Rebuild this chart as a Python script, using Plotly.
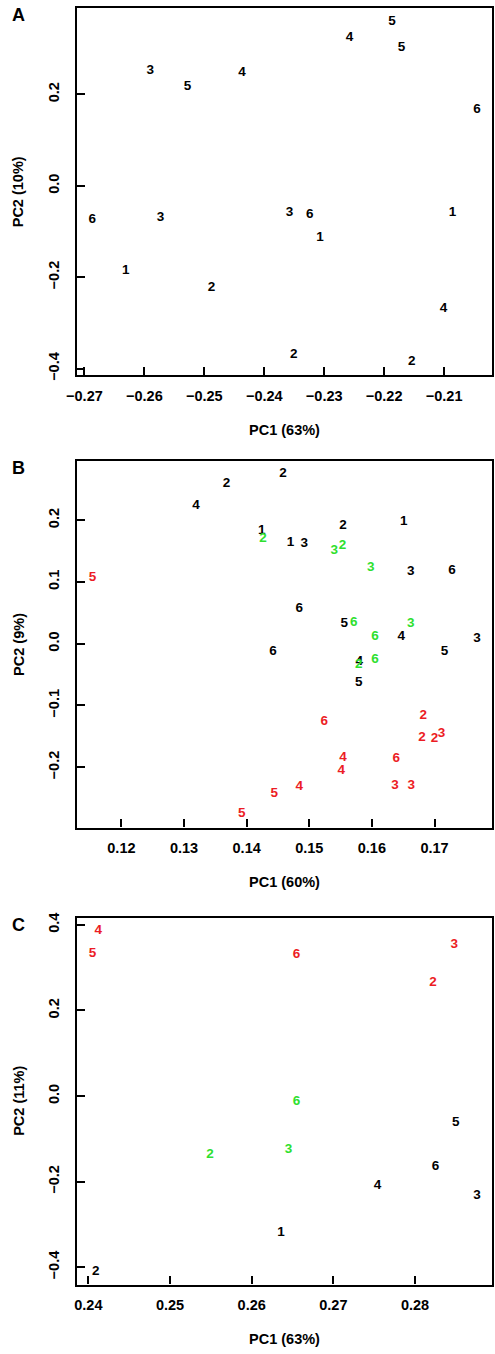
import plotly.graph_objects as go

W, H = 495, 1354
RED = "#ec1c24"
GREEN = "#2ee02e"
BLACK = "#000000"
COLORS = {"black": BLACK, "red": RED, "green": GREEN}

# ---------------- Panel A ----------------
a_x = [-0.2187, -0.2258, -0.2171, -0.2590, -0.2437, -0.2528, -0.2045, -0.2687, -0.2573,
       -0.2358, -0.2324, -0.2086, -0.2307, -0.2631, -0.2488, -0.2101, -0.2351, -0.2154]
a_y = [0.360, 0.324, 0.302, 0.252, 0.248, 0.217, 0.166, -0.074, -0.069,
       -0.058, -0.063, -0.059, -0.113, -0.186, -0.222, -0.269, -0.370, -0.385]
a_lab = ["5", "4", "5", "3", "4", "5", "6", "6", "3", "3", "6", "1", "1", "1", "2", "4", "2", "2"]
a_grp = ["black"] * 18

# ---------------- Panel B ----------------
b_x = [0.1458, 0.1368, 0.1319, 0.1424, 0.1470, 0.1492, 0.1554, 0.1651, 0.1662, 0.1728,
       0.1484, 0.1556, 0.1647, 0.1768, 0.1442, 0.1716, 0.1580, 0.1579,
       0.1426, 0.1540, 0.1553, 0.1598, 0.1571, 0.1605, 0.1662, 0.1579, 0.1605,
       0.1154, 0.1682, 0.1524, 0.1680, 0.1700, 0.1711, 0.1554, 0.1639, 0.1551, 0.1637,
       0.1663, 0.1484, 0.1444, 0.1392]
b_y = [0.2752, 0.2591, 0.2244, 0.1831, 0.1643, 0.1627, 0.1912, 0.1976, 0.1161, 0.1178,
       0.0574, 0.0333, 0.0117, 0.0076, -0.0133, -0.0124, -0.0284, -0.0631,
       0.1698, 0.1510, 0.1590, 0.1226, 0.0342, 0.0117, 0.0321, -0.0337, -0.0257,
       0.1065, -0.1157, -0.1264, -0.1526, -0.1531, -0.1462, -0.1847, -0.1863, -0.2061, -0.2302,
       -0.2302, -0.2318, -0.2426, -0.2758]
b_lab = ["2", "2", "4", "1", "1", "3", "2", "1", "3", "6",
         "6", "5", "4", "3", "6", "5", "4", "5",
         "2", "3", "2", "3", "6", "6", "3", "2", "6",
         "5", "2", "6", "2", "2", "3", "4", "6", "4", "3",
         "3", "4", "5", "5"]
b_grp = ["black"] * 18 + ["green"] * 9 + ["red"] * 14

# ---------------- Panel C ----------------
c_x = [0.2850, 0.2825, 0.2754, 0.2876, 0.2636, 0.2409,
       0.2655, 0.2645, 0.2549,
       0.2412, 0.2405, 0.2655, 0.2848, 0.2822]
c_y = [-0.063, -0.164, -0.209, -0.232, -0.319, -0.410,
       -0.012, -0.126, -0.137,
       0.386, 0.332, 0.331, 0.353, 0.264]
c_lab = ["5", "6", "4", "3", "1", "2",
         "6", "3", "2",
         "4", "5", "6", "3", "2"]
c_grp = ["black"] * 6 + ["green"] * 3 + ["red"] * 5

panels = [
    dict(x=a_x, y=a_y, lab=a_lab, grp=a_grp, letter="A", xt="PC1 (63%)", yt="PC2 (10%)",
         xr=[-0.2713, -0.2020], yr=[-0.4137, 0.389],
         xtv=[-0.27, -0.26, -0.25, -0.24, -0.23, -0.22, -0.21], ytv=[-0.4, -0.2, 0.0, 0.2],
         top=3, bot=373),
    dict(x=b_x, y=b_y, lab=b_lab, grp=b_grp, letter="B", xt="PC1 (60%)", yt="PC2 (9%)",
         xr=[0.11285, 0.17919], yr=[-0.2977, 0.2967],
         xtv=[0.12, 0.13, 0.14, 0.15, 0.16, 0.17], ytv=[-0.2, -0.1, 0.0, 0.1, 0.2],
         top=459.3, bot=829.3),
    dict(x=c_x, y=c_y, lab=c_lab, grp=c_grp, letter="C", xt="PC1 (63%)", yt="PC2 (11%)",
         xr=[0.23856, 0.28944], yr=[-0.4403, 0.4171],
         xtv=[0.24, 0.25, 0.26, 0.27, 0.28], ytv=[-0.4, -0.2, 0.0, 0.2, 0.4],
         top=920, bot=1290),
]

FONT = "Liberation Sans, Arial, Helvetica, sans-serif"
LEFT, RIGHT = 68, 492

fig = go.Figure()
layout = dict(
    width=W, height=H, margin=dict(l=0, r=0, t=0, b=0),
    paper_bgcolor="white", plot_bgcolor="white", showlegend=False,
    font=dict(family=FONT, size=14, color="black"),
)
annotations = []

for i, p in enumerate(panels):
    n = "" if i == 0 else str(i + 1)
    xa, ya = "x" + n, "y" + n
    for g in ["black", "green", "red"]:
        idx = [k for k, gg in enumerate(p["grp"]) if gg == g]
        if not idx:
            continue
        fig.add_trace(go.Scatter(
            x=[p["x"][k] for k in idx], y=[p["y"][k] for k in idx],
            text=[p["lab"][k] for k in idx], mode="text",
            textposition="middle center",
            textfont=dict(family=FONT, size=13.5, color=COLORS[g], weight="bold"),
            xaxis=xa, yaxis=ya, hoverinfo="skip", cliponaxis=False,
        ))
    y0 = 1 - p["bot"] / H
    y1 = 1 - p["top"] / H
    axcommon = dict(showline=True, linewidth=2.4, linecolor="black", mirror=True,
                    ticks="inside", ticklen=8, tickwidth=2.4, tickcolor="black",
                    showgrid=False, zeroline=False,
                    tickfont=dict(family=FONT, size=14.5, color="black", weight="bold"))
    layout["xaxis" + n] = dict(domain=[LEFT / W, RIGHT / W], range=p["xr"], anchor=ya,
                               tickvals=p["xtv"], tickformat=".2f", ticklabelstandoff=6,
                               **axcommon)
    layout["yaxis" + n] = dict(domain=[y0, y1], range=p["yr"], anchor=xa,
                               tickvals=p["ytv"], tickformat=".1f", tickangle=-90,
                               ticklabelstandoff=10, **axcommon)
    mid = (p["top"] + p["bot"]) / 2
    annotations.append(dict(text="<b>%s</b>" % p["xt"], x=(LEFT + RIGHT) / 2 / W,
                            y=1 - (p["bot"] + 55) / H, xref="paper", yref="paper",
                            showarrow=False, xanchor="center", yanchor="middle",
                            font=dict(family=FONT, size=14.5, color="black")))
    annotations.append(dict(text="<b>%s</b>" % p["yt"], x=9 / W, y=1 - mid / H,
                            xref="paper", yref="paper", textangle=-90,
                            showarrow=False, xanchor="center", yanchor="middle",
                            font=dict(family=FONT, size=14.5, color="black")))
    annotations.append(dict(text="<b>%s</b>" % p["letter"], x=8.5 / W,
                            y=1 - (p["top"] + 7.5) / H,
                            xref="paper", yref="paper", showarrow=False,
                            xanchor="center", yanchor="middle",
                            font=dict(family=FONT, size=18, color="black")))

layout["annotations"] = annotations
fig.update_layout(**layout)
fig.write_html(
    "out.html",
    config={"displayModeBar": False},
    post_script="document.body.style.margin='0';document.body.style.overflow='hidden';",
)
